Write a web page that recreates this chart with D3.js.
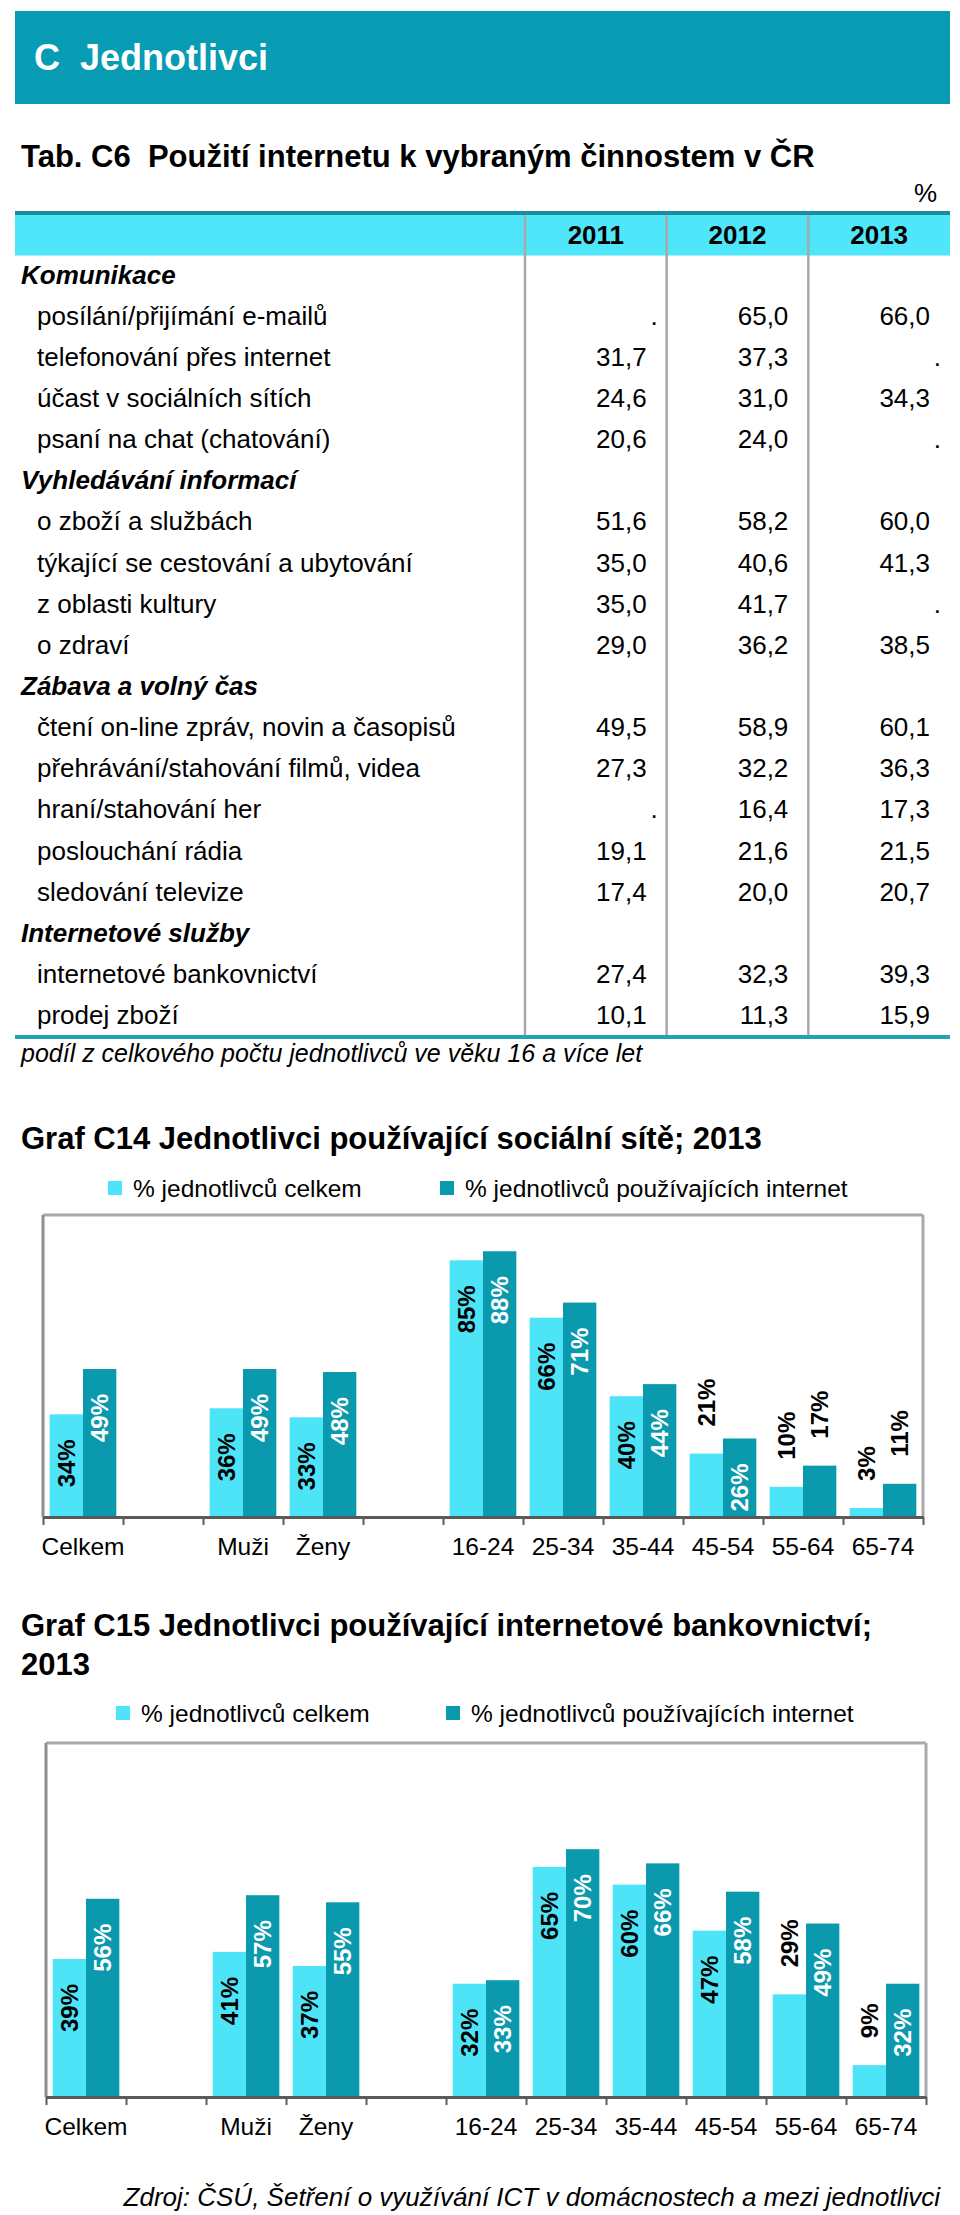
<!DOCTYPE html>
<html><head><meta charset="utf-8">
<script src="https://cdn.jsdelivr.net/npm/d3@7"></script>
<style>
html,body{margin:0;padding:0;background:#fff;}
svg{display:block;font-family:"Liberation Sans",Arial,Helvetica,sans-serif;}
</style></head><body>
<svg id="page" width="960" height="2215"></svg>
<script>
// ---------------- DATA ----------------
const sectionTitle = "C  Jednotlivci";
const tableTitle = "Tab. C6  Použití internetu k vybraným činnostem v ČR";
const tableUnit = "%";
const tableYears = ["2011", "2012", "2013"];
const tableGroups = ["Komunikace", "Vyhledávání informací", "Zábava a volný čas", "Internetové služby"];
const activityLabels = [
  "posílání/přijímání e-mailů",
  "telefonování přes internet",
  "účast v sociálních sítích",
  "psaní na chat (chatování)",
  "o zboží a službách",
  "týkající se cestování a ubytování",
  "z oblasti kultury",
  "o zdraví",
  "čtení on-line zpráv, novin a časopisů",
  "přehrávání/stahování filmů, videa",
  "hraní/stahování her",
  "poslouchání rádia",
  "sledování televize",
  "internetové bankovnictví",
  "prodej zboží"
];
const activityGroup = [0, 0, 0, 0, 1, 1, 1, 1, 2, 2, 2, 2, 2, 3, 3];
const values2011 = [null, 31.7, 24.6, 20.6, 51.6, 35.0, 35.0, 29.0, 49.5, 27.3, null, 19.1, 17.4, 27.4, 10.1];
const values2012 = [65.0, 37.3, 31.0, 24.0, 58.2, 40.6, 41.7, 36.2, 58.9, 32.2, 16.4, 21.6, 20.0, 32.3, 11.3];
const values2013 = [66.0, null, 34.3, null, 60.0, 41.3, null, 38.5, 60.1, 36.3, 17.3, 21.5, 20.7, 39.3, 15.9];
const tableNote = "podíl z celkového počtu jednotlivců ve věku 16 a více let";

const chartCategories = ["Celkem", "", "Muži", "Ženy", "", "16-24", "25-34", "35-44", "45-54", "55-64", "65-74"];
const seriesNames = ["% jednotlivců celkem", "% jednotlivců používajících internet"];

const socialTitleLines = ["Graf C14 Jednotlivci používající sociální sítě; 2013"];
const socialTotal    = [34, null, 36, 33, null, 85, 66, 40, 21, 10, 3];
const socialInternet = [49, null, 49, 48, null, 88, 71, 44, 26, 17, 11];
const socialLabelsAbove = [[8, 9, 10], [9, 10]];

const bankTitleLines = ["Graf C15 Jednotlivci používající internetové bankovnictví;", "2013"];
const bankTotal    = [39, null, 41, 37, null, 32, 65, 60, 47, 29, 9];
const bankInternet = [56, null, 57, 55, null, 33, 70, 66, 58, 49, 32];
const bankLabelsAbove = [[9, 10], []];

const sourceNote = "Zdroj: ČSÚ, Šetření o využívání ICT v domácnostech a mezi jednotlivci";

// ---------------- STYLE ----------------
const C_BAND = "#079bb4";
const C_LIGHT = "#4ee4f8";
const C_DARK = "#0b99ae";
const C_HEAD = "#4fe6fa";
const C_GRID = "#a8a8a8";

const svg = d3.select("#page");
const fmt = v => d3.format(".1f")(v).replace(".", ",");

// ---------------- SECTION HEADER ----------------
svg.append("rect").attr("x", 15).attr("y", 11).attr("width", 935).attr("height", 93).attr("fill", C_BAND);
svg.append("text").attr("x", 34).attr("y", 57).attr("dy", "0.35em")
  .attr("fill", "#fff").attr("font-size", 36).attr("font-weight", "bold")
  .style("white-space", "pre").text(sectionTitle);

// ---------------- TABLE ----------------
svg.append("text").attr("x", 21).attr("y", 156).attr("dy", "0.35em")
  .attr("font-size", 31).attr("font-weight", "bold").style("white-space", "pre").text(tableTitle);
svg.append("text").attr("x", 937).attr("y", 193).attr("dy", "0.35em")
  .attr("font-size", 26).attr("text-anchor", "end").text(tableUnit);

const rows = [];
tableGroups.forEach((g, gi) => {
  rows.push({ type: "group", label: g });
  activityLabels.forEach((a, i) => {
    if (activityGroup[i] === gi) rows.push({ type: "item", label: a, values: [values2011[i], values2012[i], values2013[i]] });
  });
});

const tbl = { left: 15, right: 950, top: 213, headBottom: 255.5, bottom: 1037, labelCol: 525 };
const rowY = d3.scaleBand().domain(d3.range(rows.length)).range([tbl.headBottom - 1.5, tbl.bottom - 1.5]);
const colX = d3.scaleBand().domain(tableYears).range([tbl.labelCol, tbl.right]);

svg.append("rect").attr("x", tbl.left).attr("y", tbl.top).attr("width", tbl.right - tbl.left)
  .attr("height", tbl.headBottom - tbl.top).attr("fill", C_HEAD);

// vertical grid lines
svg.append("g").selectAll("line").data(tableYears).join("line")
  .attr("x1", d => colX(d)).attr("x2", d => colX(d))
  .attr("y1", tbl.top).attr("y2", tbl.bottom)
  .attr("stroke", C_GRID).attr("stroke-width", 2.5);

svg.append("line").attr("x1", tbl.left).attr("x2", tbl.right).attr("y1", tbl.top).attr("y2", tbl.top)
  .attr("stroke", "#1a8d9e").attr("stroke-width", 4);
svg.append("line").attr("x1", tbl.left).attr("x2", tbl.right).attr("y1", tbl.bottom).attr("y2", tbl.bottom)
  .attr("stroke", "#22a2b4").attr("stroke-width", 4);

svg.append("g").selectAll("text").data(tableYears).join("text")
  .attr("x", d => colX(d) + colX.bandwidth() / 2).attr("y", (tbl.top + tbl.headBottom) / 2 + 1)
  .attr("dy", "0.35em").attr("text-anchor", "middle")
  .attr("font-size", 26).attr("font-weight", "bold").text(d => d);

const rowG = svg.append("g").selectAll("g").data(rows).join("g")
  .attr("transform", (d, i) => `translate(0,${rowY(i) + rowY.bandwidth() / 2})`);

rowG.append("text")
  .attr("x", d => d.type === "group" ? 21 : 37).attr("dy", "0.35em")
  .attr("font-size", 26)
  .attr("font-weight", d => d.type === "group" ? "bold" : "normal")
  .attr("font-style", d => d.type === "group" ? "italic" : "normal")
  .text(d => d.label);

rowG.filter(d => d.type === "item").selectAll("text.val")
  .data(d => d.values.map((v, j) => ({ v, year: tableYears[j] })))
  .join("text").attr("class", "val")
  .attr("x", d => colX(d.year) + colX.bandwidth() - (d.v == null ? 9 : 20))
  .attr("dy", "0.35em").attr("text-anchor", "end").attr("font-size", 26)
  .text(d => d.v == null ? "." : fmt(d.v));

svg.append("text").attr("x", 21).attr("y", 1053).attr("dy", "0.35em")
  .attr("font-size", 25).attr("font-style", "italic").text(tableNote);

// ---------------- CHARTS ----------------
function drawChart(cfg, titleLines, total, internet, labelsAbove) {
  const g = svg.append("g");
  titleLines.forEach((t, i) => {
    g.append("text").attr("x", 21).attr("y", cfg.titleY[i]).attr("dy", "0.35em")
      .attr("font-size", 31).attr("font-weight", "bold").text(t);
  });

  // legend
  const legend = g.append("g").selectAll("g").data(seriesNames).join("g")
    .attr("transform", (d, i) => `translate(${cfg.legendX[i]},${cfg.legendY})`);
  legend.append("rect").attr("x", 0).attr("y", -7).attr("width", 14).attr("height", 14)
    .attr("fill", (d, i) => i === 0 ? C_LIGHT : C_DARK);
  legend.append("text").attr("x", 25).attr("dy", "0.35em").attr("font-size", 24.5).text(d => d);

  const n = chartCategories.length;
  const x = d3.scaleBand().domain(d3.range(n)).range([cfg.left, cfg.right]);
  const xs = d3.scaleBand().domain([0, 1]).range([0, x.bandwidth()]).paddingInner(0).paddingOuter(0.2);
  const y = d3.scaleLinear().domain([0, 100]).range([cfg.bottom, cfg.top]);

  // frame
  g.append("line").attr("x1", cfg.left).attr("x2", cfg.right).attr("y1", cfg.top).attr("y2", cfg.top)
    .attr("stroke", "#a9a9a9").attr("stroke-width", 3);
  g.append("line").attr("x1", cfg.left).attr("x2", cfg.left).attr("y1", cfg.top).attr("y2", cfg.bottom)
    .attr("stroke", "#8e8e8e").attr("stroke-width", 3);
  g.append("line").attr("x1", cfg.right).attr("x2", cfg.right).attr("y1", cfg.top).attr("y2", cfg.bottom)
    .attr("stroke", "#a9a9a9").attr("stroke-width", 3);

  const pts = [];
  [total, internet].forEach((arr, s) => {
    arr.forEach((v, i) => { if (v != null) pts.push({ s, i, v, above: labelsAbove[s].includes(i) }); });
  });

  g.append("g").selectAll("rect").data(pts).join("rect")
    .attr("x", d => x(d.i) + xs(d.s)).attr("width", xs.bandwidth())
    .attr("y", d => y(d.v)).attr("height", d => y(0) - y(d.v))
    .attr("fill", d => d.s === 0 ? C_LIGHT : C_DARK);

  g.append("g").selectAll("text").data(pts).join("text")
    .attr("transform", d => {
      const cx = x(d.i) + xs(d.s) + xs.bandwidth() / 2;
      const yy = d.above ? y(d.v) - 27 : y(d.v) + 25;
      return `translate(${cx},${yy}) rotate(-90)`;
    })
    .attr("dy", "0.36em")
    .attr("text-anchor", d => d.above ? "start" : "end")
    .attr("font-size", 24).attr("font-weight", "bold")
    .attr("fill", d => (!d.above && d.s === 1) ? "#fff" : "#000")
    .text(d => d.v + "%");

  // boundary ticks axis
  const xb = d3.scaleLinear().domain([0, n]).range([cfg.left, cfg.right]);
  const ax = g.append("g").attr("transform", `translate(0,${cfg.bottom})`)
    .call(d3.axisBottom(xb).tickValues(d3.range(n + 1)).tickFormat("").tickSize(8).tickSizeOuter(0));
  ax.select(".domain").attr("stroke", "#5a5a5a").attr("stroke-width", 3);
  ax.selectAll(".tick line").attr("stroke", "#5a5a5a").attr("stroke-width", 2);

  // category labels
  const cl = g.append("g").attr("transform", `translate(0,${cfg.bottom})`)
    .call(d3.axisBottom(x).tickFormat(i => chartCategories[i]).tickSize(0).tickPadding(21));
  cl.select(".domain").remove();
  cl.selectAll("text").attr("font-size", 24.5).attr("font-family", null).attr("fill", "#000");
}

drawChart({ titleY: [1138], legendY: 1188, legendX: [108, 440], left: 43, right: 923, top: 1215, bottom: 1517 },
  socialTitleLines, socialTotal, socialInternet, socialLabelsAbove);

drawChart({ titleY: [1625, 1664], legendY: 1713, legendX: [116, 446], left: 46, right: 926, top: 1743, bottom: 2097 },
  bankTitleLines, bankTotal, bankInternet, bankLabelsAbove);

svg.append("text").attr("x", 940).attr("y", 2197).attr("dy", "0.35em")
  .attr("text-anchor", "end").attr("font-size", 26).attr("font-style", "italic").text(sourceNote);
</script>
</body></html>
